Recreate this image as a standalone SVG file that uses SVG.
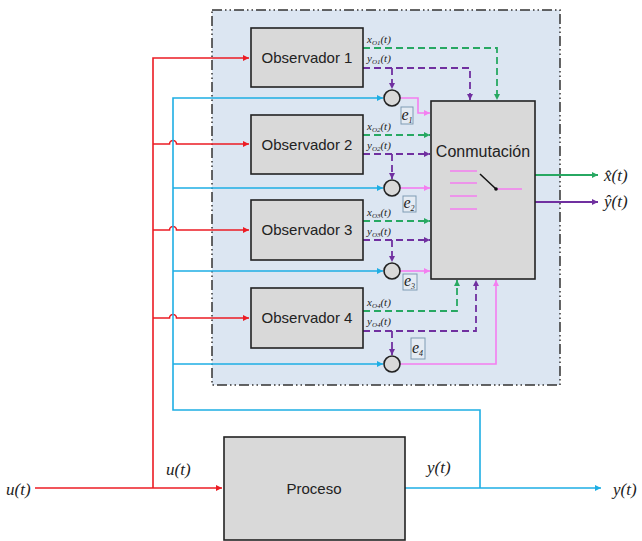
<svg xmlns="http://www.w3.org/2000/svg" width="642" height="541" viewBox="0 0 642 541">
<style>
.box{fill:#d9d9d9;stroke:#222;stroke-width:1.6}
.lbl{font-family:"Liberation Sans",Arial,sans-serif;font-size:15px;fill:#222;text-anchor:middle}
.m{font-family:"Liberation Serif","Times New Roman",serif;font-style:italic;fill:#222}
.red{stroke:#ec1c24;stroke-width:1.6;fill:none}
.blue{stroke:#1eaee4;stroke-width:1.6;fill:none}
.grn{stroke:#27a862;stroke-width:1.8;fill:none}
.pur{stroke:#7030a0;stroke-width:1.8;fill:none}
.pink{stroke:#f47ef0;stroke-width:1.6;fill:none}
.d{stroke-dasharray:7,4}
.ebox{fill:#e4ebf3;stroke:#7f9bb3;stroke-width:1}
</style>
<defs>
<marker id="ar" viewBox="0 0 10 10" refX="10" refY="5" markerWidth="6" markerHeight="6" orient="auto" markerUnits="userSpaceOnUse"><path d="M0,0L10,5L0,10z" fill="#ec1c24"/></marker>
<marker id="ab" viewBox="0 0 10 10" refX="10" refY="5" markerWidth="6" markerHeight="6" orient="auto" markerUnits="userSpaceOnUse"><path d="M0,0L10,5L0,10z" fill="#1eaee4"/></marker>
<marker id="ag" viewBox="0 0 10 10" refX="10" refY="5" markerWidth="6" markerHeight="6" orient="auto" markerUnits="userSpaceOnUse"><path d="M0,0L10,5L0,10z" fill="#27a862"/></marker>
<marker id="ap" viewBox="0 0 10 10" refX="10" refY="5" markerWidth="6" markerHeight="6" orient="auto" markerUnits="userSpaceOnUse"><path d="M0,0L10,5L0,10z" fill="#7030a0"/></marker>
<marker id="ak" viewBox="0 0 10 10" refX="10" refY="5" markerWidth="6" markerHeight="6" orient="auto" markerUnits="userSpaceOnUse"><path d="M0,0L10,5L0,10z" fill="#f47ef0"/></marker>
</defs>
<rect width="642" height="541" fill="#fff"/>
<rect id="region" x="212" y="10" width="348" height="375" fill="#dce6f2" stroke="#333" stroke-width="1.5" stroke-dasharray="10,3,1.5,3,1.5,3"/>

<g id="connectors">
<path class="red" d="M35,488H222" marker-end="url(#ar)"/>
<path class="red" d="M153,488V58H249" marker-end="url(#ar)"/>
<path class="red" d="M153,144H169.5a3.5,3.5 0 0 1 7,0H249" marker-end="url(#ar)"/>
<path class="red" d="M153,230H169.5a3.5,3.5 0 0 1 7,0H249" marker-end="url(#ar)"/>
<path class="red" d="M153,318H169.5a3.5,3.5 0 0 1 7,0H249" marker-end="url(#ar)"/>
<path class="blue" d="M405,488H601" marker-end="url(#ab)"/>
<path class="blue" d="M480,488V410H173V98H383" marker-end="url(#ab)"/>
<path class="blue" d="M173,188H383" marker-end="url(#ab)"/>
<path class="blue" d="M173,271H383" marker-end="url(#ab)"/>
<path class="blue" d="M173,364H383" marker-end="url(#ab)"/>
<path class="grn d" d="M363,48H497V100" marker-end="url(#ag)"/>
<path class="grn d" d="M363,135H430" marker-end="url(#ag)"/>
<path class="grn d" d="M363,221H430" marker-end="url(#ag)"/>
<path class="grn d" d="M363,311H457V280" marker-end="url(#ag)"/>
<path class="pur d" d="M363,68H470V100" marker-end="url(#ap)"/>
<path class="pur d" d="M392,68V89" marker-end="url(#ap)"/>
<path class="pur d" d="M363,154H430" marker-end="url(#ap)"/>
<path class="pur d" d="M392,154V179" marker-end="url(#ap)"/>
<path class="pur d" d="M363,240H430" marker-end="url(#ap)"/>
<path class="pur d" d="M392,240V262" marker-end="url(#ap)"/>
<path class="pur d" d="M363,331H476V280" marker-end="url(#ap)"/>
<path class="pur d" d="M392,331V355" marker-end="url(#ap)"/>
<path class="pink" d="M400,98H418V113H430" marker-end="url(#ak)"/>
<path class="pink" d="M400,188H430" marker-end="url(#ak)"/>
<path class="pink" d="M400,271H430" marker-end="url(#ak)"/>
<path class="pink" d="M400,364H496V280" marker-end="url(#ak)"/>
<path class="grn" d="M535,175H598" marker-end="url(#ag)"/>
<path class="pur" d="M535,202H598" marker-end="url(#ap)"/>
</g>

<g id="obs1"><rect class="box" x="251" y="28" width="112" height="59"/><text class="lbl" x="307" y="63">Observador 1</text></g>
<g id="obs2"><rect class="box" x="251" y="115" width="112" height="59"/><text class="lbl" x="307" y="150">Observador 2</text></g>
<g id="obs3"><rect class="box" x="251" y="200" width="112" height="60"/><text class="lbl" x="307" y="235">Observador 3</text></g>
<g id="obs4"><rect class="box" x="251" y="288" width="112" height="60"/><text class="lbl" x="307" y="323">Observador 4</text></g>

<g id="conm">
<rect class="box" x="431" y="101" width="104" height="178"/>
<text class="lbl" x="483" y="157" style="font-size:16px">Conmutación</text>
<g class="pink"><path d="M450,171H477M450,183H477M450,196H477M450,209H477M496,189H522"/></g>
<path d="M480,174L496,189" stroke="#111" stroke-width="1.5"/>
<circle cx="496" cy="189" r="1.8" fill="#111"/>
</g>

<g id="sum1"><circle cx="392" cy="98" r="8" fill="#d9d9d9" stroke="#222" stroke-width="1.6"/></g>
<g id="sum2"><circle cx="392" cy="188" r="8" fill="#d9d9d9" stroke="#222" stroke-width="1.6"/></g>
<g id="sum3"><circle cx="392" cy="271" r="8" fill="#d9d9d9" stroke="#222" stroke-width="1.6"/></g>
<g id="sum4"><circle cx="392" cy="364" r="8" fill="#d9d9d9" stroke="#222" stroke-width="1.6"/></g>

<g id="proceso"><rect class="box" x="224" y="437" width="181" height="103"/><text class="lbl" x="314" y="494">Proceso</text></g>

<g id="labels">
<rect class="ebox" x="401" y="107" width="12" height="17"/><text class="m" x="401.5" y="120" font-size="16">e<tspan font-size="8" dy="3">1</tspan></text>
<rect class="ebox" x="403" y="196" width="13" height="16"/><text class="m" x="403.5" y="208" font-size="16">e<tspan font-size="8" dy="3">2</tspan></text>
<rect class="ebox" x="403" y="274" width="14" height="16"/><text class="m" x="404" y="286" font-size="16">e<tspan font-size="8" dy="3">3</tspan></text>
<rect class="ebox" x="411" y="338" width="14" height="21"/><text class="m" x="412" y="353" font-size="16">e<tspan font-size="8" dy="3">4</tspan></text>

<text class="m" x="367" y="43" font-size="11">x<tspan font-size="7" dy="2">O1</tspan><tspan dy="-2">(t)</tspan></text>
<text class="m" x="367" y="62" font-size="11">y<tspan font-size="7" dy="2">O1</tspan><tspan dy="-2">(t)</tspan></text>
<text class="m" x="367" y="130" font-size="11">x<tspan font-size="7" dy="2">O2</tspan><tspan dy="-2">(t)</tspan></text>
<text class="m" x="367" y="149" font-size="11">y<tspan font-size="7" dy="2">O2</tspan><tspan dy="-2">(t)</tspan></text>
<text class="m" x="367" y="216" font-size="11">x<tspan font-size="7" dy="2">O3</tspan><tspan dy="-2">(t)</tspan></text>
<text class="m" x="367" y="235" font-size="11">y<tspan font-size="7" dy="2">O3</tspan><tspan dy="-2">(t)</tspan></text>
<text class="m" x="367" y="306" font-size="11">x<tspan font-size="7" dy="2">O4</tspan><tspan dy="-2">(t)</tspan></text>
<text class="m" x="367" y="325" font-size="11">y<tspan font-size="7" dy="2">O4</tspan><tspan dy="-2">(t)</tspan></text>

<text class="m" x="604" y="181" font-size="17">x̂(t)</text>
<text class="m" x="604" y="207" font-size="17">ŷ(t)</text>
<text class="m" x="6" y="495" font-size="17">u(t)</text>
<text class="m" x="166" y="475" font-size="17">u(t)</text>
<text class="m" x="427" y="473" font-size="17">y(t)</text>
<text class="m" x="613" y="495" font-size="17">y(t)</text>
</g>
</svg>
